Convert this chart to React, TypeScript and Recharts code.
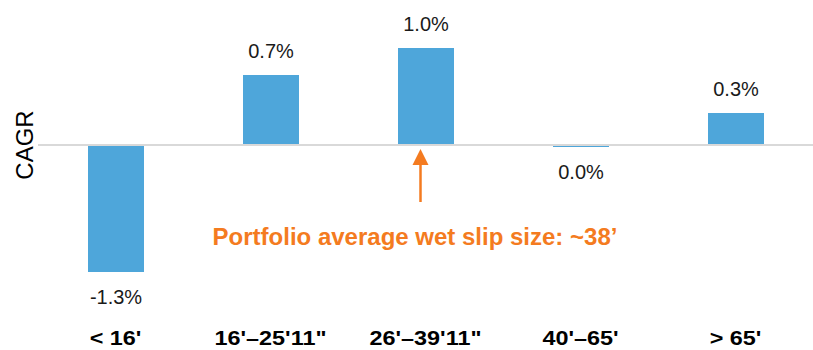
import { Bar, BarChart, LabelList, ReferenceLine, XAxis, YAxis } from "recharts";

const categories = ["< 16'", "16'–25'11\"", "26'–39'11\"", "40'–65'", "> 65'"];
const cagr = [-1.27, 0.7, 0.97, -0.02, 0.32];

// arrow pointing up at the portfolio average bucket
const arrowCategory = categories[2];
const arrowFrom = -0.57;
const arrowTo = -0.04;
const note = "Portfolio average wet slip size: ~38’";

const BLUE = "#4EA6DA";
const ORANGE = "#F47B20";
const FONT = "'Liberation Sans', Arial, sans-serif";

const data = categories.map((c, i) => ({ name: c, value: cagr[i] }));

const fmtPct = (v: number) => {
  const s = Math.abs(v) < 0.05 ? "0.0" : v.toFixed(1);
  return `${s}%`;
};

function ValueLabel(props: any) {
  const { x, y, width, height, value } = props;
  const top = Math.min(y, y + height);
  const bottom = Math.max(y, y + height);
  const ty = value >= 0 ? top - 24 : bottom + 25;
  return (
    <text
      x={x + width / 2}
      y={ty}
      textAnchor="middle"
      dominantBaseline="central"
      fontSize={20}
      fontFamily={FONT}
      fill="#1a1a1a"
    >
      {fmtPct(value)}
    </text>
  );
}

function CategoryTick(props: any) {
  const { x, y, payload } = props;
  // the source labels are drawn wide, so stretch them a bit horizontally
  return (
    <g transform={`translate(${x},${y + 47}) scale(1.17,1)`}>
      <text x={0} y={0} textAnchor="middle" fontSize={20} fontWeight="bold" fontFamily={FONT} fill="#000">
        {payload.value}
      </text>
    </g>
  );
}

function Arrow(props: any) {
  const { x1, y1, x2, y2 } = props;
  const head = 16;
  return (
    <g>
      <line x1={x1 - 5} y1={y1} x2={x2 - 5} y2={y2 + head} stroke={ORANGE} strokeWidth={2.5} />
      <polygon points={`${x2 - 5},${y2} ${x2 - 13},${y2 + head} ${x2 + 3},${y2 + head}`} fill={ORANGE} />
    </g>
  );
}

export default function App() {
  return (
    <div style={{ position: "absolute", left: 0, top: 0, width: 813, height: 350, background: "#fff" }}>
      <BarChart width={813} height={350} data={data} margin={{ top: 25, right: 0, bottom: 0, left: 0 }}>
        <XAxis
          dataKey="name"
          axisLine={false}
          tickLine={false}
          height={60}
          tick={<CategoryTick />}
          interval={0}
        />
        <YAxis domain={[-1.45, 1.2]} width={38} axisLine={false} tickLine={false} tick={false} />
        <ReferenceLine
          y={0}
          stroke="#d9d9d9"
          strokeWidth={2}
          label={(p: any) => {
            const vb = p.viewBox;
            const cx = vb.x - 14;
            return (
              <text
                x={cx}
                y={vb.y}
                transform={`rotate(-90 ${cx} ${vb.y})`}
                textAnchor="middle"
                dominantBaseline="central"
                fontSize={24}
                fontFamily={FONT}
                fill="#000"
              >
                CAGR
              </text>
            );
          }}
        />
        <Bar dataKey="value" fill={BLUE} barSize={56} isAnimationActive={false}>
          <LabelList dataKey="value" content={<ValueLabel />} />
        </Bar>
        <ReferenceLine
          segment={[
            { x: arrowCategory, y: arrowFrom },
            { x: arrowCategory, y: arrowTo },
          ]}
          shape={<Arrow />}
          ifOverflow="visible"
        />
      </BarChart>
      <div
        style={{
          position: "absolute",
          left: 0,
          width: 830,
          top: 223,
          textAlign: "center",
          fontFamily: FONT,
          fontWeight: "bold",
          fontSize: 24,
          color: ORANGE,
          whiteSpace: "nowrap",
        }}
      >
        {note}
      </div>
    </div>
  );
}
